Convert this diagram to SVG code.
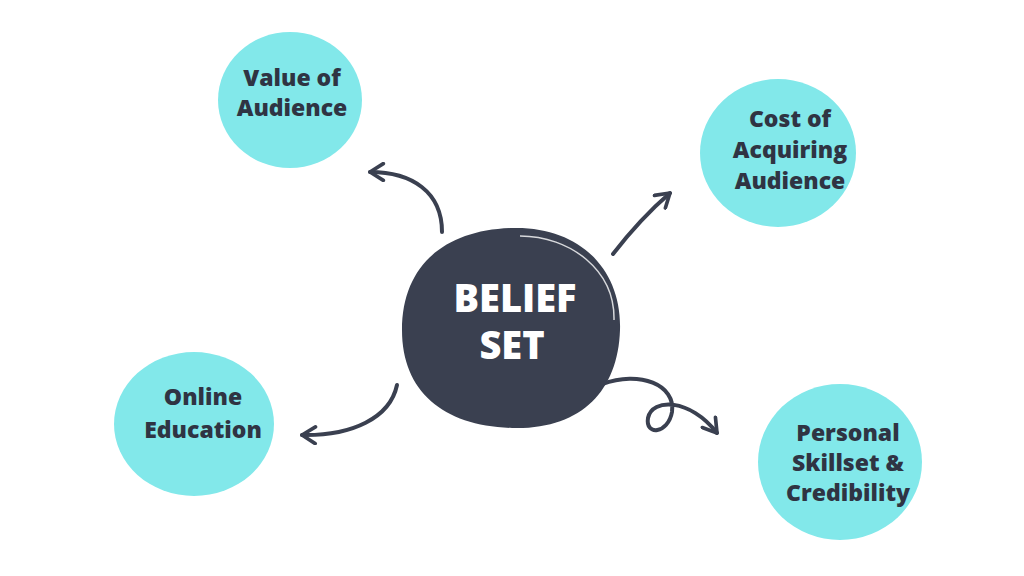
<svg xmlns="http://www.w3.org/2000/svg" width="1024" height="576" viewBox="0 0 1024 576">
<defs>
<style>
.bubble{fill:#82e8ea}
.lbl{font-family:"Open Sans","Liberation Sans",sans-serif;font-weight:800;font-size:23px;fill:#2f3443;text-anchor:middle}
.ctr{font-family:"Open Sans","Liberation Sans",sans-serif;font-weight:800;font-size:38px;fill:#ffffff;text-anchor:middle}
.arr{fill:none;stroke:#3a4050;stroke-width:4;stroke-linecap:round;marker-end:url(#ah)}
</style>
<marker id="ah" viewBox="0 0 12 12" refX="10" refY="6" markerWidth="5" markerHeight="5" orient="auto" markerUnits="strokeWidth">
<path d="M2,1 L10,6 L2,11" fill="none" stroke="#3a4050" stroke-width="2.2" stroke-linecap="round" stroke-linejoin="round"/>
</marker>
</defs>
<rect width="1024" height="576" fill="#ffffff"/>
<g id="value"><ellipse class="bubble" cx="290" cy="100" rx="72" ry="68"/><text class="lbl" x="292" y="86">Value of</text><text class="lbl" x="292" y="116">Audience</text></g>
<g id="cost"><ellipse class="bubble" cx="778" cy="153" rx="78" ry="74"/><text class="lbl" x="790" y="127">Cost of</text><text class="lbl" x="790" y="158">Acquiring</text><text class="lbl" x="790" y="189">Audience</text></g>
<g id="online"><ellipse class="bubble" cx="194" cy="424" rx="80" ry="72"/><text class="lbl" x="203" y="405">Online</text><text class="lbl" x="203" y="438">Education</text></g>
<g id="personal"><ellipse class="bubble" cx="840" cy="462" rx="82" ry="78"/><text class="lbl" x="848" y="441">Personal</text><text class="lbl" x="848" y="471">Skillset &amp;</text><text class="lbl" x="848" y="501">Credibility</text></g>
<g id="belief"><path d="M512,228 C580,226 622,270 620,330 C618,392 580,430 512,428 C444,426 402,392 402,330 C402,266 444,230 512,228 Z" fill="#3a4050"/>
<path d="M520,236 C570,236 615,270 614,320" fill="none" stroke="#ffffff" stroke-width="1.5" opacity="0.8"/>
<text class="ctr" x="515" y="312">BELIEF</text><text class="ctr" x="512" y="359">SET</text></g>
<g id="connectors">
<path class="arr" d="M442,232 C442,192 412,172 370,172"/>
<path class="arr" d="M613,254 C630,232 648,212 670,193"/>
<path class="arr" d="M397,385 C390,418 352,436 302,435"/>
<path class="arr" d="M602,384 C640,370 676,385 672,412 C668,434 645,436 648,418 C652,398 690,398 717,433"/>
</g>
</svg>
